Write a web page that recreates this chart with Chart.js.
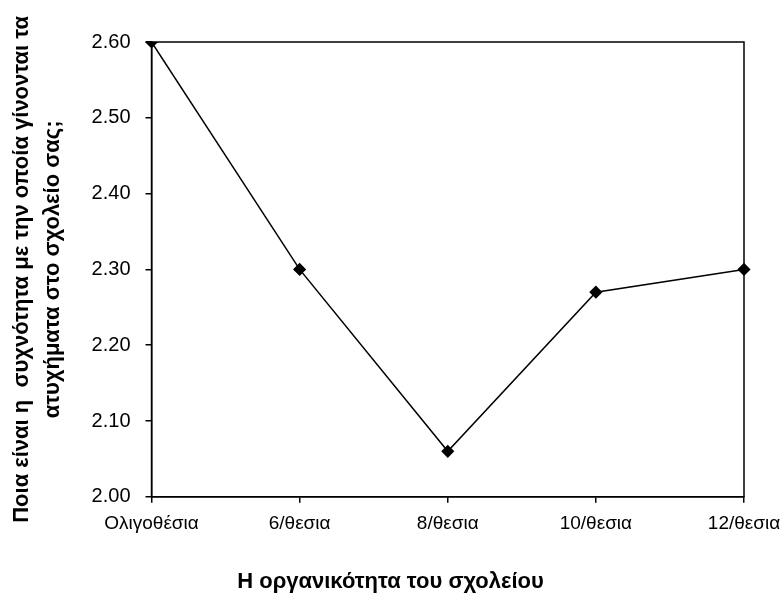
<!DOCTYPE html>
<html>
<head>
<meta charset="utf-8">
<script src="https://cdn.jsdelivr.net/npm/chart.js@4/dist/chart.umd.min.js"></script>
<style>
  html, body { margin: 0; padding: 0; background: #fff; }
  #wrap { width: 781px; height: 596px; }
</style>
</head>
<body>
<div id="wrap"><canvas id="c" width="781" height="596"></canvas></div>
<script>
const categories = ['Ολιγοθέσια', '6/θεσια', '8/θεσια', '10/θεσια', '12/θεσια'];
const frequency = [2.60, 2.30, 2.06, 2.27, 2.30];
const yTitleLines = ['Ποια είναι η  συχνότητα με την οποία γίνονται τα', 'ατυχήματα στο σχολείο σας;'];
const xTitle = 'Η οργανικότητα του σχολείου';

// Frame around the plotting area (top and right edges)
const plotFrame = {
  id: 'plotFrame',
  afterDraw(chart) {
    const a = chart.chartArea, ctx = chart.ctx;
    ctx.save();
    ctx.strokeStyle = '#000';
    ctx.lineWidth = 1.5;
    ctx.strokeRect(a.left, a.top, a.right - a.left, a.bottom - a.top);
    ctx.restore();
  }
};

new Chart(document.getElementById('c'), {
  type: 'line',
  data: {
    labels: categories,
    datasets: [{
      data: frequency,
      borderColor: '#000',
      backgroundColor: '#000',
      borderWidth: 1.5,
      pointStyle: 'rectRot',
      pointRadius: 5.5,
      pointHoverRadius: 5.5,
      tension: 0,
      fill: false
    }]
  },
  options: {
    responsive: false,
    animation: false,
    layout: { padding: { top: 42, right: 0, left: 0, bottom: 0 } },
    plugins: {
      legend: { display: false },
      tooltip: { enabled: false },
      title: {
        display: true,
        position: 'bottom',
        text: xTitle,
        color: '#000',
        font: { family: 'Liberation Sans', size: 22, weight: 'bold' },
        padding: { top: 23, bottom: 1 }
      }
    },
    scales: {
      x: {
        offset: false,
        afterFit: scale => { scale.paddingRight = 37; },
        grid: { display: true, drawOnChartArea: false, color: '#000', tickLength: 6, lineWidth: 1.5 },
        border: { color: '#000', width: 1.5 },
        ticks: { color: '#000', font: { family: 'Liberation Sans', size: 19 }, padding: 10, maxRotation: 0 }
      },
      y: {
        min: 2.0,
        max: 2.6,
        grid: { display: true, drawOnChartArea: false, color: '#000', tickLength: 6, lineWidth: 1.5 },
        border: { color: '#000', width: 1.5 },
        ticks: {
          stepSize: 0.1,
          color: '#000',
          font: { family: 'Liberation Sans', size: 20 },
          padding: 15,
          callback: v => v.toFixed(2)
        },
        title: {
          display: true,
          text: yTitleLines,
          color: '#000',
          font: { family: 'Liberation Sans', size: 22, weight: 'bold', lineHeight: 1.4 },
          padding: { top: 7, bottom: 8 }
        }
      }
    }
  },
  plugins: [plotFrame]
});
</script>
</body>
</html>
